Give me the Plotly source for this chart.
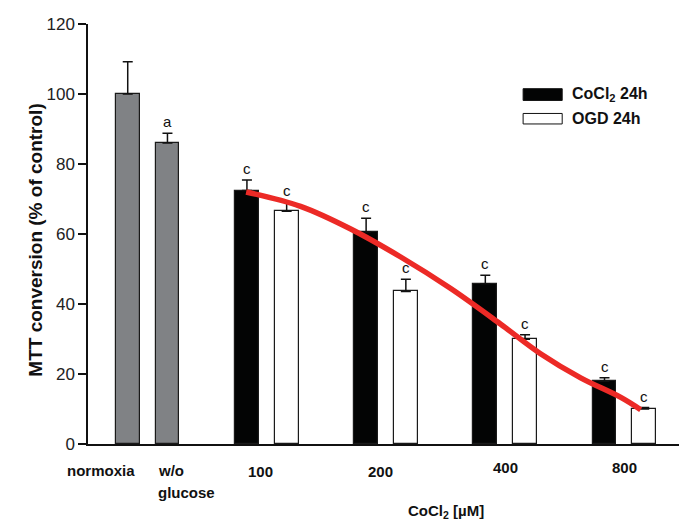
import plotly.graph_objects as go

# ---------------- data ----------------
control_labels = ["normoxia", "w/o glucose"]
control_values = [100.0, 86.0]
control_err = [9.2, 2.8]
control_sig = ["", "a"]

dose_labels = ["100", "200", "400", "800"]
cocl2_values = [72.4, 60.6, 45.8, 17.9]
cocl2_err = [3.0, 3.9, 2.4, 1.0]
cocl2_sig = ["c", "c", "c", "c"]
ogd_values = [66.5, 43.6, 29.9, 10.0]
ogd_err = [2.7, 3.5, 1.3, 0.4]
ogd_sig = ["c", "c", "c", "c"]

# fitted red curve (x in bar-slot units)
fit_x = [2.98, 4.35, 5.60, 6.86, 8.12, 9.38, 10.39, 11.40, 12.41, 12.91]
fit_y = [72.0, 67.9, 61.5, 53.5, 44.5, 34.3, 25.8, 18.9, 13.3, 9.8]

y_ticks = [0, 20, 40, 60, 80, 100, 120]

# ---------------- positions ----------------
ctrl_x = [0, 1]
cocl2_x = [3 + 3 * i for i in range(len(dose_labels))]
ogd_x = [4 + 3 * i for i in range(len(dose_labels))]

FONT = "Liberation Sans, Arial, Helvetica, sans-serif"
BW = 0.6
outline = dict(color="#1a1a1a", width=1.2)

def err(arr):
    return dict(type="data", symmetric=False, array=arr, arrayminus=[0] * len(arr),
                color="#111111", thickness=1.5, width=5)

fig = go.Figure()
fig.add_trace(go.Bar(x=ctrl_x, y=control_values, width=BW, marker=dict(color="#808285", line=outline),
                     error_y=err(control_err), showlegend=False, name="control"))
fig.add_trace(go.Bar(x=cocl2_x, y=cocl2_values, width=BW, marker=dict(color="#030404", line=outline),
                     error_y=err(cocl2_err), showlegend=False, name="CoCl2 24h"))
fig.add_trace(go.Bar(x=ogd_x, y=ogd_values, width=BW, marker=dict(color="#ffffff", line=outline),
                     error_y=err(ogd_err), showlegend=False, name="OGD 24h"))
fig.add_trace(go.Scatter(x=fit_x, y=fit_y, mode="lines",
                         line=dict(color="#ec2a26", width=5.5, shape="spline", smoothing=1.0),
                         showlegend=False, hoverinfo="skip"))

annotations = []
# significance letters
for xs, vs, es, ss in [(ctrl_x, control_values, control_err, control_sig),
                       (cocl2_x, cocl2_values, cocl2_err, cocl2_sig),
                       (ogd_x, ogd_values, ogd_err, ogd_sig)]:
    for x, v, e, s in zip(xs, vs, es, ss):
        if s:
            annotations.append(dict(x=x, y=v + e, text=s, showarrow=False, yanchor="bottom",
                                    yshift=1, font=dict(family=FONT, size=15, color="#111")))

# x category labels
lab_font = dict(family=FONT, size=15, color="#111")
annotations.append(dict(x=-0.68, xref="x", y=0, yref="paper", yshift=-26, text="<b>" + control_labels[0] + "</b>",
                        showarrow=False, yanchor="middle", font=lab_font))
w1, w2 = control_labels[1].split(" ")
annotations.append(dict(x=ctrl_x[1] - BW / 2, xref="x", y=0, yref="paper", yshift=-26, text="<b>" + w1 + "</b>",
                        showarrow=False, yanchor="middle", xanchor="left", font=lab_font))
annotations.append(dict(x=ctrl_x[1] - BW / 2, xref="x", y=0, yref="paper", yshift=-48, text="<b>" + w2 + "</b>",
                        showarrow=False, yanchor="middle", xanchor="left", font=lab_font))
dose_label_shift = [-27, -27, -23, -23]
dose_label_dx = [-0.15, -0.15, 0.0, 0.0]
for i, d in enumerate(dose_labels):
    cx = (cocl2_x[i] + ogd_x[i]) / 2 + dose_label_dx[i]
    annotations.append(dict(x=cx, xref="x", y=0, yref="paper", yshift=dose_label_shift[i], text="<b>" + d + "</b>",
                            showarrow=False, yanchor="middle", font=lab_font))
annotations.append(dict(x=8.0, xref="x", y=0, yref="paper", yshift=-67, text="<b>CoCl<sub>2</sub> [µM]</b>",
                        showarrow=False, yanchor="middle", font=lab_font))

# y title
annotations.append(dict(x=-0.11, xref="paper", y=0.485, yref="paper", text="<b>MTT conversion (% of control)</b>",
                        textangle=-90, showarrow=False, font=dict(family=FONT, size=19, color="#111")))

# legend (drawn manually)
shapes = [
    dict(type="rect", xref="paper", yref="paper", x0=0.735, x1=0.801, y0=0.818, y1=0.846,
         fillcolor="#030404", line=dict(color="#111", width=1)),
    dict(type="rect", xref="paper", yref="paper", x0=0.735, x1=0.801, y0=0.762, y1=0.787,
         fillcolor="#ffffff", line=dict(color="#111", width=1)),
]
leg_font = dict(family=FONT, size=16, color="#111")
annotations.append(dict(x=0.815, xref="paper", y=0.832, yref="paper", text="<b>CoCl<sub>2</sub> 24h</b>",
                        showarrow=False, xanchor="left", yanchor="middle", font=leg_font))
annotations.append(dict(x=0.815, xref="paper", y=0.774, yref="paper", text="<b>OGD 24h</b>",
                        showarrow=False, xanchor="left", yanchor="middle", font=leg_font))

# page body adds an 8px margin, so the figure is sized/offset to compensate
fig.update_layout(
    width=679, height=513,
    margin=dict(l=80, r=7, t=8, b=77),
    paper_bgcolor="white", plot_bgcolor="white",
    font=dict(family=FONT, color="#111"),
    annotations=annotations, shapes=shapes,
    bargap=0,
    xaxis=dict(range=[-1, 13.9], showline=True, linecolor="#111", linewidth=1.5,
               showticklabels=False, ticks="", showgrid=False, zeroline=False),
    yaxis=dict(range=[0, 120], tickvals=y_ticks, showline=True, linecolor="#111", linewidth=1.5,
               ticks="outside", ticklen=8, tickwidth=1.5, tickcolor="#111",
               ticklabeloverflow="allow",
               tickfont=dict(family=FONT, size=17, color="#222"),
               showgrid=False, zeroline=False),
)

fig.write_html("out.html")
